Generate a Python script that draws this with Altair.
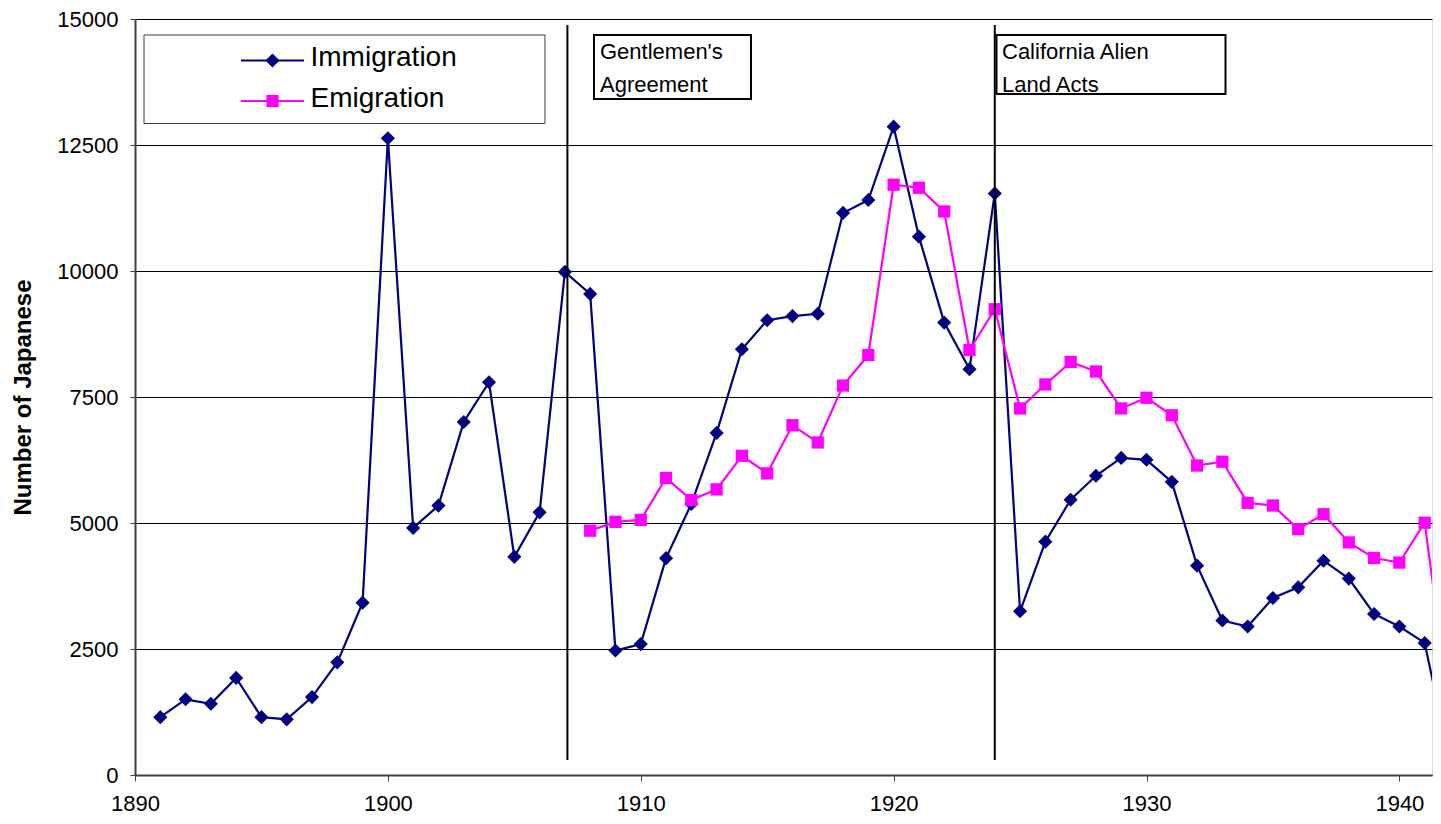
import altair as alt
import pandas as pd

# ---------------- data ----------------
imm_years = list(range(1891, 1943))
imm_values = [1148, 1502, 1413, 1926, 1148, 1104, 1546, 2235, 3419, 12633,
              4903, 5345, 7005, 7792, 4329, 5212, 9982, 9545, 2470, 2598,
              4303, 5379, 6788, 8447, 9023, 9106, 9152, 11152, 11409, 12864,
              10682, 8977, 8053, 11540, 3248, 4630, 5461, 5937, 6292, 6254,
              5816, 4154, 3066, 2946, 3512, 3724, 4252, 3897, 3195, 2946,
              2620, 280]

emi_years = list(range(1908, 1943))
emi_values = [4848, 5023, 5061, 5894, 5455, 5667, 6333, 5985, 6939, 6598,
              7727, 8333, 11712, 11652, 11182, 8432, 9242, 7273, 7749, 8195,
              8006, 7273, 7485, 7137, 6140, 6216, 5400, 5347, 4879, 5174,
              4615, 4305, 4215, 5006, 1260]

series_names = ["Immigration", "Emigration"]
series_colors = ["#000080", "#FF00FF"]
series_shapes = ["diamond", "square"]
series_sizes = [200, 150]

x_ticks = [1890, 1900, 1910, 1920, 1930, 1940]
y_ticks = [0, 2500, 5000, 7500, 10000, 12500, 15000]

event_years = [1907.1, 1924]
event_labels = ["Gentlemen's\nAgreement", "California Alien\nLand Acts"]

FONT = "Liberation Sans"

df = pd.concat([
    pd.DataFrame({"year": imm_years, "value": imm_values, "series": series_names[0]}),
    pd.DataFrame({"year": emi_years, "value": emi_values, "series": series_names[1]}),
], ignore_index=True)

events = pd.DataFrame({"year": event_years, "label": event_labels})

x_enc = alt.X("year:Q",
              scale=alt.Scale(domain=[1890, 1941.29], nice=False, zero=False),
              axis=alt.Axis(values=x_ticks, format="d", grid=False, title=None,
                            domainColor="#404040", domainWidth=2,
                            tickColor="#404040", tickSize=6, tickWidth=1,
                            labelFontSize=22, labelPadding=12, labelColor="black",
                            labelFont=FONT, labelFlush=False))
y_enc = alt.Y("value:Q",
              scale=alt.Scale(domain=[0, 15000], nice=False),
              axis=alt.Axis(values=y_ticks, format="d", grid=True,
                            gridColor="black", gridWidth=1, gridOpacity=1,
                            domainColor="#404040", domainWidth=2,
                            tickColor="#404040", tickSize=5, tickWidth=1,
                            labelFontSize=22, labelPadding=12, labelColor="black",
                            labelFont=FONT,
                            title="Number of Japanese", titleFont=FONT,
                            titleFontSize=24, titleFontWeight="bold",
                            titleColor="black", titlePadding=21))

color_enc = alt.Color("series:N",
                      scale=alt.Scale(domain=series_names, range=series_colors),
                      legend=None)

lines = alt.Chart(df).mark_line(strokeWidth=2.2, clip=True).encode(
    x=x_enc, y=y_enc, color=color_enc,
    order=alt.Order("year:Q"))

points = alt.Chart(df).mark_point(filled=True, opacity=1, clip=True).encode(
    x="year:Q", y="value:Q", color=color_enc,
    shape=alt.Shape("series:N", scale=alt.Scale(domain=series_names, range=series_shapes), legend=None),
    size=alt.Size("series:N", scale=alt.Scale(domain=series_names, range=series_sizes), legend=None))

event_rules = alt.Chart(events).mark_rule(color="black", strokeWidth=2).encode(
    x="year:Q", y=alt.datum(300), y2=alt.datum(14880))

# annotation boxes (pixel positions within the plot area)
one = pd.DataFrame({"k": [0]})
ann_boxes = [(459, 616, 16, 80), (861.5, 1090.5, 16, 75)]
ann_text_pos = [(465, 40), (867, 40)]
ann_layers = []
for (x0, x1, y0, y1), (tx, ty), lab in zip(ann_boxes, ann_text_pos, event_labels):
    ann_layers.append(alt.Chart(one).mark_rect(fill="white", stroke="black", strokeWidth=2).encode(
        x=alt.value(x0), x2=alt.value(x1), y=alt.value(y0), y2=alt.value(y1)))
    ann_layers.append(alt.Chart(one).mark_text(
        text=lab, align="left", baseline="alphabetic", fontSize=22, font=FONT,
        color="black", lineBreak="\n", lineHeight=33).encode(
        x=alt.value(tx), y=alt.value(ty)))

# legend (drawn as chart chrome)
leg_layers = [alt.Chart(one).mark_rect(fill="white", stroke="#404040", strokeWidth=1).encode(
    x=alt.value(9), x2=alt.value(410), y=alt.value(16), y2=alt.value(104.5))]
leg_rows = [41.5, 82]
for name, col, shp, sz, ry in zip(series_names, series_colors, series_shapes, series_sizes, leg_rows):
    leg_layers.append(alt.Chart(one).mark_rule(color=col, strokeWidth=2).encode(
        x=alt.value(106), x2=alt.value(169), y=alt.value(ry)))
    leg_layers.append(alt.Chart(one).mark_point(filled=True, opacity=1, shape=shp, size=sz, color=col).encode(
        x=alt.value(137.5), y=alt.value(ry)))
    leg_layers.append(alt.Chart(one).mark_text(
        text=name, align="left", baseline="alphabetic", fontSize=28, font=FONT, color="black").encode(
        x=alt.value(175.5), y=alt.value(ry + 5.5)))

chart = alt.layer(lines, points, event_rules, *ann_layers, *leg_layers).properties(
    width=1297, height=756,
    padding={"left": 127, "top": 11, "right": 1, "bottom": 40},
    autosize=alt.AutoSizeParams(type="none"),
    background="white",
).configure_view(strokeWidth=0).configure(font=FONT)

chart.save("out.html", embed_options={"renderer": "svg", "actions": False})
